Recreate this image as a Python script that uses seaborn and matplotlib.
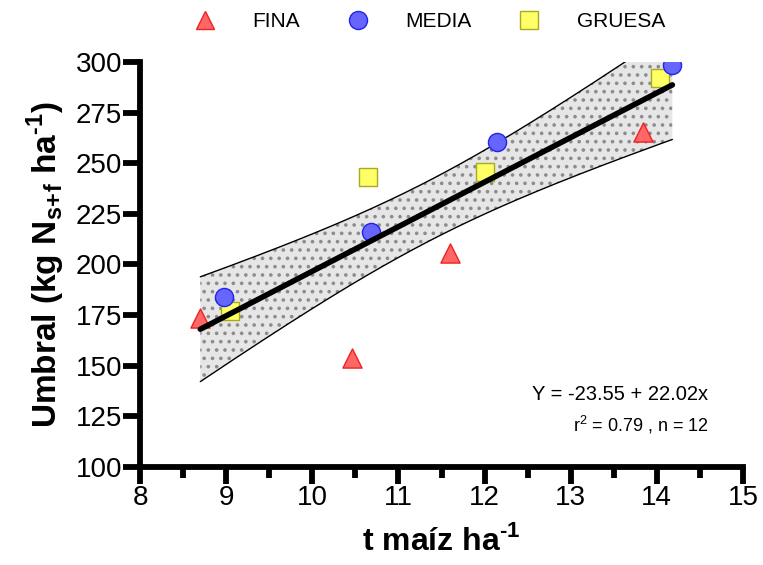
import numpy as np
import pandas as pd
import matplotlib
matplotlib.use("Agg")
import matplotlib.pyplot as plt
import seaborn as sns
from matplotlib.lines import Line2D

# Data
fina_x = [8.70, 10.46, 11.60, 13.84]
fina_y = [173.6, 153.7, 205.7, 265.4]
media_x = [8.97, 10.68, 12.14, 14.18]
media_y = [184.1, 216.0, 260.5, 298.5]
gruesa_x = [9.04, 10.65, 12.00, 14.04]
gruesa_y = [177.2, 243.2, 245.7, 291.9]

intercept = -23.55
slope = 22.02
t_crit = 2.228  # t(0.975, df=10)

sns.set_theme(style="white")
plt.rcParams["font.family"] = ["Liberation Sans", "DejaVu Sans"]
plt.rcParams["mathtext.fontset"] = "custom"
plt.rcParams["mathtext.rm"] = "Liberation Sans"
plt.rcParams["mathtext.bf"] = "Liberation Sans:bold"
plt.rcParams["hatch.color"] = "#8c8c8c"
plt.rcParams["hatch.linewidth"] = 1.4
plt.rcParams["text.color"] = "black"
plt.rcParams["axes.labelcolor"] = "black"

df = pd.DataFrame({
    "x": fina_x + media_x + gruesa_x,
    "y": fina_y + media_y + gruesa_y,
    "tipo": ["FINA"] * 4 + ["MEDIA"] * 4 + ["GRUESA"] * 4,
})

fig = plt.figure(figsize=(7.63, 5.65), dpi=100)
ax = fig.add_axes([0.1835, 0.1735, 0.7903, 0.7168])

# regression line and 95% confidence band
x = df["x"].to_numpy()
y = df["y"].to_numpy()
n = len(x)
xs = np.linspace(x.min(), x.max(), 200)
fit = intercept + slope * xs
resid = y - (intercept + slope * x)
s = np.sqrt(np.sum(resid ** 2) / (n - 2))
sxx = np.sum((x - x.mean()) ** 2)
half = t_crit * s * np.sqrt(1 / n + (xs - x.mean()) ** 2 / sxx)
ax.fill_between(xs, fit - half, fit + half, facecolor="#e6e6e6",
                edgecolor="#8c8c8c", hatch="..", linewidth=0, zorder=1)
ax.plot(xs, fit + half, color="black", lw=1.0, zorder=1.5)
ax.plot(xs, fit - half, color="black", lw=1.0, zorder=1.5)

palette = {"FINA": "#ff6666", "MEDIA": "#6666ff", "GRUESA": "#ffff66"}
edges = {"FINA": "#ee2222", "MEDIA": "#2222ee", "GRUESA": "#aaaa22"}
markers = {"FINA": "^", "MEDIA": "o", "GRUESA": "s"}
sizes = {"FINA": 190, "MEDIA": 170, "GRUESA": 150}
for k in ["FINA", "GRUESA", "MEDIA"]:
    sub = df[df["tipo"] == k]
    sns.scatterplot(data=sub, x="x", y="y", marker=markers[k], s=sizes[k],
                    color=palette[k], edgecolor=edges[k], linewidth=1.0,
                    ax=ax, zorder=2, legend=False)

line_df = pd.DataFrame({"x": xs, "y": fit})
sns.lineplot(data=line_df, x="x", y="y", color="black", lw=4.0, ax=ax,
             zorder=3, solid_capstyle="round")

ax.set_xlim(8, 15)
ax.set_ylim(100, 300)
ax.set_xticks(range(8, 16))
ax.set_xticks(np.arange(8.5, 15, 1.0), minor=True)
ax.set_yticks(range(100, 301, 25))
for sp in ["top", "right"]:
    ax.spines[sp].set_visible(False)
for sp in ["left", "bottom"]:
    ax.spines[sp].set_linewidth(4.2)
    ax.spines[sp].set_color("black")
    ax.spines[sp].set_capstyle("projecting")
ax.tick_params(axis="both", which="major", length=12, width=4.2,
               labelsize=20, color="black", labelcolor="black", pad=1,
               direction="out", bottom=True, left=True)
ax.tick_params(axis="x", which="minor", length=8, width=4.2, color="black",
               bottom=True)

ax.set_xlabel("t maíz ha$^{\\mathbf{\u20101}}$", fontsize=23,
              fontweight="bold", labelpad=10, color="black")
ax.set_ylabel("Umbral (kg N$_{\\mathbf{s\\!+\\!f}}$ ha$^{\\mathbf{\u20101}}$)",
              fontsize=24, fontweight="bold", labelpad=6, color="black")

ax.text(14.6, 135.6, "Y = -23.55 + 22.02x", fontsize=14.5, ha="right",
        va="center", color="black")
ax.text(14.6, 120.7, r"r$^2$ = 0.79 , n = 12", fontsize=13, ha="right",
        va="center", color="black")

handles = [Line2D([], [], ls="", marker=markers[k], markersize=13,
                  markerfacecolor=palette[k], markeredgecolor=edges[k])
           for k in ["FINA", "MEDIA", "GRUESA"]]
fig.legend(handles, ["FINA", "MEDIA", "GRUESA"], loc="center",
           bbox_to_anchor=(0.563, 0.962), ncol=3, frameon=False,
           fontsize=15, handletextpad=1.76, columnspacing=2.3,
           handlelength=1.0, labelcolor="black")

fig.savefig("out.png", dpi=100)
